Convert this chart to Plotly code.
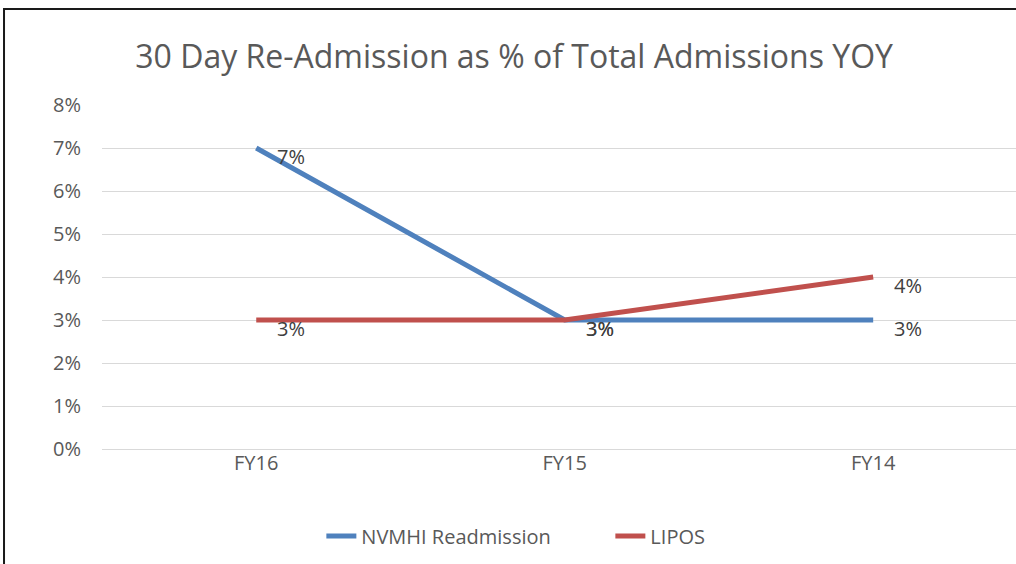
import plotly.graph_objects as go

years = ["FY16", "FY15", "FY14"]
nvmhi = [0.07, 0.03, 0.03]
lipos = [0.03, 0.03, 0.04]

SERIES = [
    ("NVMHI Readmission", nvmhi, "#4F81BD"),
    ("LIPOS", lipos, "#C0504D"),
]

fig = go.Figure()
labels = []
for name, vals, color in SERIES:
    fig.add_trace(go.Scatter(
        x=years, y=vals, name=name, mode="lines",
        line=dict(color=color, width=5),
    ))
    for x, y in zip(years, vals):
        labels.append(dict(
            x=x, y=y, text=f"{y:.0%}", showarrow=False,
            xanchor="left", yanchor="middle", xshift=19, yshift=-8,
            font=dict(size=20, color="#404040"),
        ))

fig.update_layout(
    width=1016, height=564,
    margin=dict(l=102, r=0, t=105, b=115),
    paper_bgcolor="white", plot_bgcolor="white",
    font=dict(family="Open Sans, Liberation Sans, sans-serif", color="#595959"),
    title=dict(text="30 Day Re-Admission as % of Total Admissions YOY",
               x=0.506, xanchor="center", y=1 - 57 / 564, yanchor="middle",
               font=dict(size=32, color="#595959")),
    legend=dict(orientation="h", x=0.24, xanchor="left", y=-0.253, yanchor="middle",
                font=dict(size=20, color="#595959"), entrywidth=244, entrywidthmode="pixels"),
    annotations=labels,
    shapes=[dict(type="rect", xref="paper", yref="paper",
                 x0=-0.1072, x1=1.05, y0=-0.4, y1=1.279,
                 line=dict(color="#1a1a1a", width=2))],
)
fig.update_xaxes(range=[-0.5, 2.463], showgrid=False, showline=False,
                 tickfont=dict(size=20, color="#595959"), ticks="")
fig.update_yaxes(range=[0, 0.08], dtick=0.01, tickformat=".0%",
                 gridcolor="#D9D9D9", gridwidth=1, zeroline=True, zerolinecolor="#D9D9D9",
                 zerolinewidth=1, ticklabelstandoff=20,
                 showline=False, tickfont=dict(size=20, color="#595959"), ticks="")

fig.write_html("out.html", config={"displayModeBar": False},
               post_script="document.body.style.margin='0';document.body.style.overflow='hidden';")
